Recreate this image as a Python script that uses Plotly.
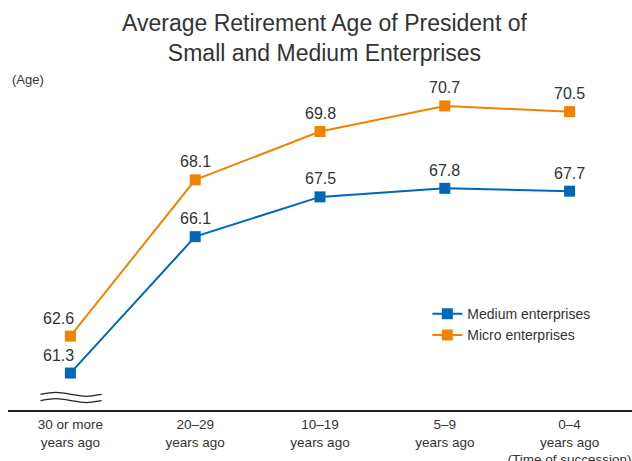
import plotly.graph_objects as go

categories = ["30 or more<br>years ago", "20–29<br>years ago", "10–19<br>years ago",
              "5–9<br>years ago", "0–4<br>years ago<br>(Time of succession)"]
medium = [61.3, 66.1, 67.5, 67.8, 67.7]
micro = [62.6, 68.1, 69.8, 70.7, 70.5]
series_names = ["Medium enterprises", "Micro enterprises"]

BLUE = "#0068b7"
ORANGE = "#f08300"
TXT = "#333333"
FONT = "Liberation Sans, Arial, sans-serif"

xs = list(range(len(categories)))

fig = go.Figure()
for name, vals, col in ((series_names[0], medium, BLUE), (series_names[1], micro, ORANGE)):
    fig.add_trace(go.Scatter(
        x=xs, y=vals, name=name, mode="lines+markers",
        line=dict(color=col, width=2),
        marker=dict(symbol="square", size=11, color=col),
        cliponaxis=False))

annotations = []
for vals in (medium, micro):
    for i, v in enumerate(vals):
        annotations.append(dict(
            x=i, y=v, xref="x", yref="y", text=f"{v:.1f}", showarrow=False,
            yshift=18, xshift=-12 if i == 0 else 0, yanchor="middle",
            font=dict(size=16, color=TXT, family=FONT)))

# title
annotations.append(dict(
    text="Average Retirement Age of President of<br>Small and Medium Enterprises",
    x=(324 - 8) / 624, y=(410 - 38) / 341, xref="paper", yref="paper",
    xanchor="center", yanchor="middle", showarrow=False,
    font=dict(size=23, color=TXT, family=FONT)))
# unit label
annotations.append(dict(
    text="(Age)", x=(10 - 8) / 624, y=(410 - 80) / 341, xref="paper", yref="paper",
    xanchor="left", yanchor="middle", showarrow=False,
    font=dict(size=13, color=TXT, family=FONT)))

# axis break symbol (two wavy lines)
def wave(y0):
    xa, xb = -0.24, 0.25
    w = (xb - xa) / 2
    a = 0.09
    return (f"M {xa},{y0} C {xa + w*0.5},{y0 + a} {xa + w*0.5},{y0 + a} {xa + w},{y0} "
            f"C {xa + w*1.5},{y0 - a} {xa + w*1.5},{y0 - a} {xb},{y0}")

shapes = [dict(type="path", path=wave(y0), xref="x", yref="y",
               line=dict(color="#222222", width=1.2)) for y0 in (60.55, 60.33)]

fig.update_layout(
    width=632, height=461,
    margin=dict(l=8, r=0, t=69, b=51, autoexpand=False),
    paper_bgcolor="white", plot_bgcolor="white",
    font=dict(family=FONT, color=TXT, size=14),
    showlegend=True,
    legend=dict(x=0.672, y=0.328, xanchor="left", yanchor="top",
                bgcolor="rgba(0,0,0,0)", font=dict(size=14, color=TXT),
                itemwidth=30, tracegroupgap=0),
    xaxis=dict(range=[-0.5, 4.5], tickmode="array", tickvals=xs, ticktext=categories,
               showgrid=False, zeroline=False, showline=True, linecolor="#222222",
               linewidth=2, ticks="", automargin=False, ticklabelstandoff=1,
               tickfont=dict(size=13.5, color=TXT)),
    yaxis=dict(range=[60, 72], showgrid=False, zeroline=False, showline=False,
               showticklabels=False, ticks="", automargin=False),
    annotations=annotations,
    shapes=shapes,
)
fig.write_html("out.html")
